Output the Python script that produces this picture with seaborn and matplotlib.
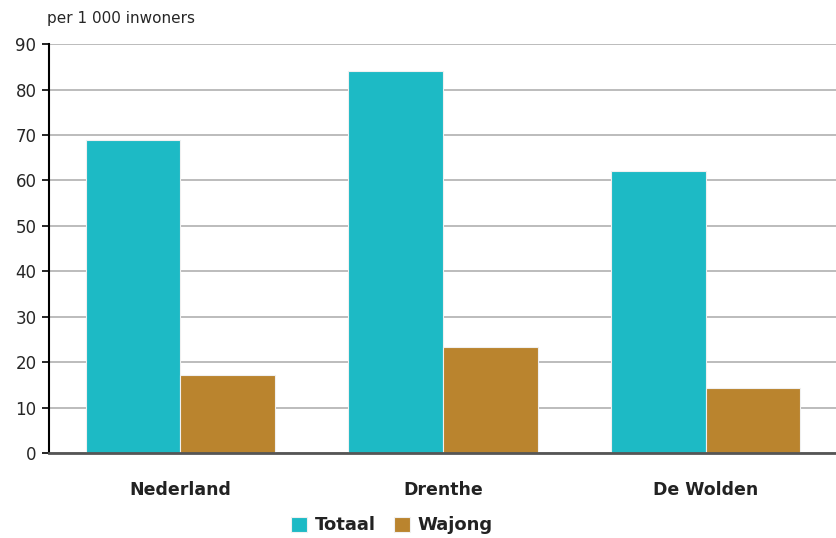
import matplotlib
matplotlib.use("Agg")
import matplotlib.pyplot as plt
import seaborn as sns
import pandas as pd

categories = ["Nederland", "Drenthe", "De Wolden"]
series = ["Totaal", "Wajong"]
totaal = [69, 84, 62]
wajong = [17.2, 23.3, 14.3]
yticks = [0, 10, 20, 30, 40, 50, 60, 70, 80, 90]

df = pd.DataFrame({
    "regio": categories * 2,
    "reeks": [series[0]] * 3 + [series[1]] * 3,
    "waarde": totaal + wajong,
})

sns.set_theme(style="white")
plt.rcParams['font.family'] = ['DejaVu Sans']

fig = plt.figure(figsize=(8.37, 5.38), dpi=100)
ax = fig.add_axes([0.0585, 0.158, 0.9415, 0.76])

palette = {"Totaal": "#1DBAC5", "Wajong": "#BA842E"}
sns.barplot(data=df, x="regio", y="waarde", hue="reeks", palette=palette,
            width=0.72, ax=ax, edgecolor="#f0f0f0", linewidth=0.8, saturation=1)

ax.set_ylim(0, 90)
ax.set_xlim(-0.5, 2.5)
ax.set_yticks(yticks)
ax.set_yticklabels([str(t) for t in yticks], fontsize=12)
ax.yaxis.grid(True, color="#b0b0b0", linewidth=1.2)
ax.set_axisbelow(True)
ax.set_xlabel("")
ax.set_ylabel("")
for s in ["top", "right"]:
    ax.spines[s].set_visible(False)
ax.spines["left"].set_color("black")
ax.spines["left"].set_linewidth(1.5)
ax.spines["bottom"].set_color("#555555")
ax.spines["bottom"].set_linewidth(2)
ax.tick_params(axis="y", left=True, length=5, width=1.2, color="black", pad=4)
ax.tick_params(axis="x", bottom=False, pad=14, labelsize=12.5)
for lbl in ax.get_xticklabels():
    lbl.set_fontweight("bold")
    lbl.set_color("#222222")

fig.text(0.056, 0.965, "per 1 000 inwoners", fontsize=11, ha="left", va="center")

leg = ax.legend(loc="upper center", bbox_to_anchor=(0.435, -0.115), ncol=2, frameon=False,
                fontsize=13, handlelength=0.9, handleheight=0.9, handletextpad=0.4,
                columnspacing=1.0)
for t in leg.get_texts():
    t.set_fontweight("bold")
    t.set_color("#222222")

fig.savefig("out.png", dpi=100)
